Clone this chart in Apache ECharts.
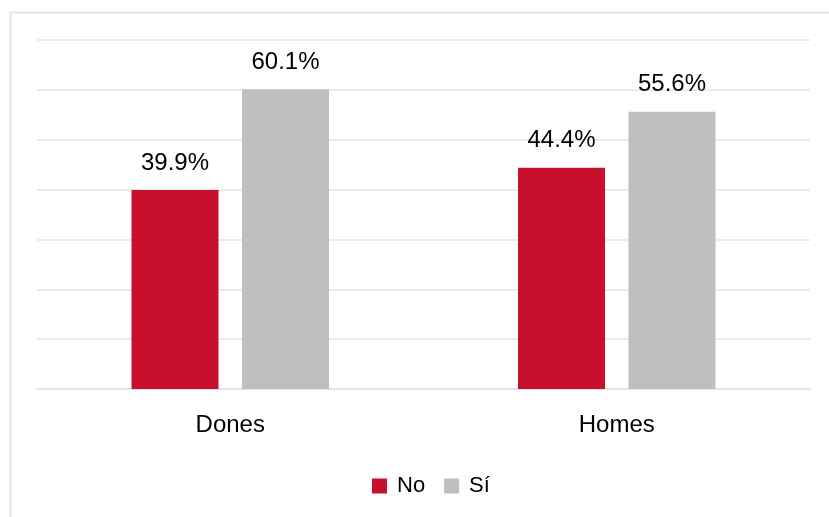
<!DOCTYPE html>
<html><head><meta charset="utf-8">
<script src="https://cdn.jsdelivr.net/npm/echarts@6/dist/echarts.min.js"></script>
<style>html,body{margin:0;padding:0;background:#fff}#c{width:829px;height:517px}</style>
</head><body><div id="c"></div>
<script>
const categories = ['Dones', 'Homes'];
const seriesNames = ['No', 'Sí'];
const valuesNo = [39.9, 44.4];
const valuesSi = [60.1, 55.6];
const colors = ['#C8102E', '#BFBFBF'];
const font = '"Liberation Sans", Arial, sans-serif';

const chart = echarts.init(document.getElementById('c'), null, {renderer: 'canvas'});
const labelCfg = {
  show: true, position: 'top', distance: 15,
  formatter: p => p.value.toFixed(1) + '%',
  fontFamily: font, fontSize: 24, color: '#000'
};
chart.setOption({
  animation: false,
  backgroundColor: '#fff',
  graphic: [{
    type: 'rect', left: 8, top: 10, silent: true,
    shape: {width: 840, height: 530},
    style: {fill: 'none', stroke: '#E6E6E6', lineWidth: 2}
  }],
  grid: {left: 37, right: 19, top: 40, bottom: 128},
  legend: {
    data: seriesNames, left: 367, top: 470, padding: 5,
    itemWidth: 15, itemHeight: 15, itemGap: 19,
    textStyle: {fontFamily: font, fontSize: 22, color: '#000', padding: [0, 0, 0, 5]},
    icon: 'rect'
  },
  xAxis: {
    type: 'category', data: categories,
    axisLine: {show: true, lineStyle: {color: '#E3E3E3', width: 2}},
    axisTick: {show: false},
    axisLabel: {margin: 24, fontFamily: font, fontSize: 24, color: '#000'}
  },
  yAxis: {
    type: 'value', min: 0, max: 70, interval: 10,
    axisLabel: {show: false}, axisLine: {show: false}, axisTick: {show: false},
    splitLine: {lineStyle: {color: '#EBEBEB', width: 2}}
  },
  series: [
    {name: seriesNames[0], type: 'bar', data: valuesNo, barWidth: 87, barGap: '27%',
     itemStyle: {color: colors[0]}, label: labelCfg},
    {name: seriesNames[1], type: 'bar', data: valuesSi, barWidth: 87, barGap: '27%',
     itemStyle: {color: colors[1]}, label: labelCfg}
  ]
});
</script></body></html>
